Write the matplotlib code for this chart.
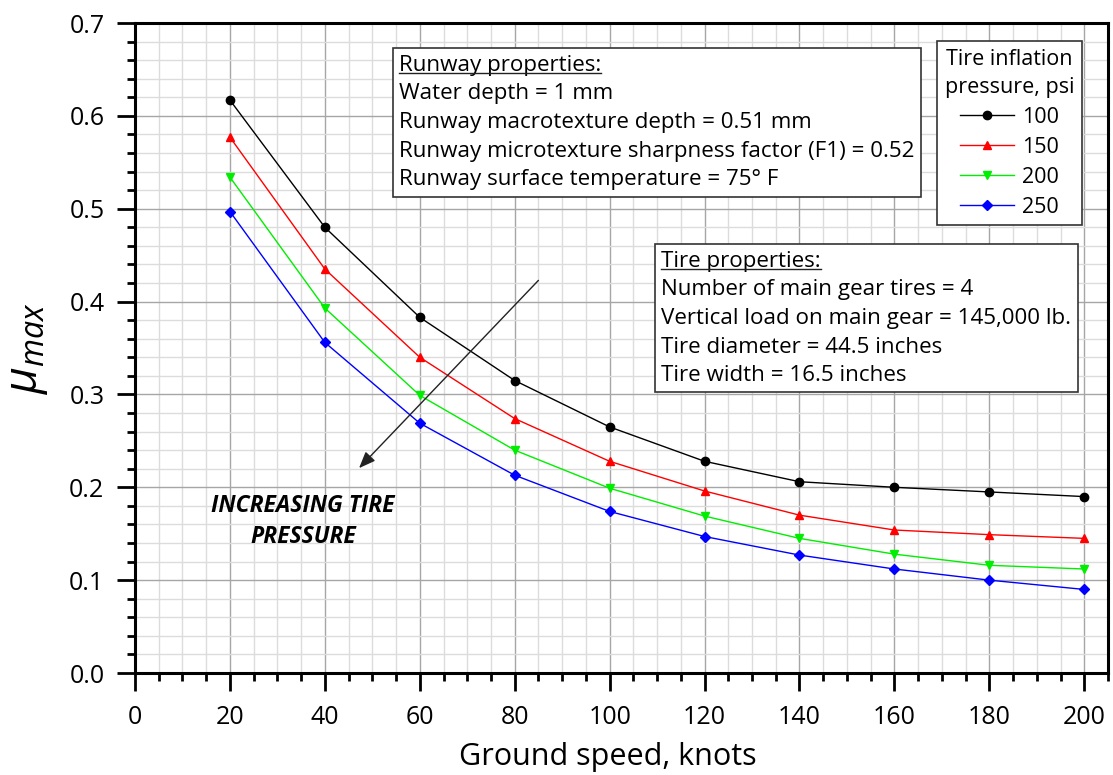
import numpy as np
import matplotlib
matplotlib.use("Agg")
import matplotlib.pyplot as plt
from matplotlib.ticker import MultipleLocator, FormatStrFormatter
from matplotlib.lines import Line2D

# ---------------------------------
# Data
# ---------------------------------
speed = [20, 40, 60, 80, 100, 120, 140, 160, 180, 200]

mu_100 = [0.617, 0.480, 0.383, 0.315, 0.265, 0.228, 0.206, 0.200, 0.195, 0.190]
mu_150 = [0.577, 0.435, 0.340, 0.274, 0.228, 0.196, 0.170, 0.154, 0.149, 0.145]
mu_200 = [0.534, 0.393, 0.299, 0.240, 0.199, 0.169, 0.145, 0.128, 0.116, 0.112]
mu_250 = [0.497, 0.356, 0.269, 0.213, 0.174, 0.147, 0.127, 0.112, 0.100, 0.090]

pressures = ["100", "150", "200", "250"]

runway_lines = [
    "Water depth = 1 mm",
    "Runway macrotexture depth = 0.51 mm",
    "Runway microtexture sharpness factor (F1) = 0.52",
    "Runway surface temperature = 75° F",
]
tire_lines = [
    "Number of main gear tires = 4",
    "Vertical load on main gear = 145,000 lb.",
    "Tire diameter = 44.5 inches",
    "Tire width = 16.5 inches",
]

# ---------------------------------
# Style
# ---------------------------------
plt.rcParams["font.family"] = ["Open Sans", "DejaVu Sans"]
plt.rcParams["mathtext.fontset"] = "custom"
plt.rcParams["mathtext.rm"] = "Open Sans"
plt.rcParams["mathtext.it"] = "Open Sans:italic"

fig = plt.figure(figsize=(11.13, 7.75), dpi=100)
ax = fig.add_axes([0.1213, 0.1316, 0.8742, 0.8387])

series = [
    (mu_100, "black", "o"),
    (mu_150, "#ff0000", "^"),
    (mu_200, "#00ee00", "v"),
    (mu_250, "#0000ff", "D"),
]
for (vals, col, mk), lab in zip(series, pressures):
    ax.plot(speed, vals, color=col, marker=mk, lw=1.0,
            markersize=6 if mk != "D" else 5, label=lab)

ax.set_xlim(0, 205)
ax.set_ylim(0, 0.7)
ax.xaxis.set_major_locator(MultipleLocator(20))
ax.xaxis.set_minor_locator(MultipleLocator(5))
ax.yaxis.set_major_locator(MultipleLocator(0.1))
ax.yaxis.set_minor_locator(MultipleLocator(0.02))
ax.yaxis.set_major_formatter(FormatStrFormatter("%.1f"))

ax.grid(which="major", color="#a6a6a6", lw=1.0)
ax.grid(which="minor", color="#dcdcdc", lw=1.0)
ax.set_axisbelow(True)

for s in ax.spines.values():
    s.set_linewidth(2.2)
ax.tick_params(which="major", direction="out", length=13, width=2,
               labelsize=18)
ax.tick_params(axis="y", which="major", pad=9)
ax.tick_params(axis="x", which="major", pad=10)
ax.tick_params(which="minor", direction="out", length=6, width=2)

ax.set_xlabel("Ground speed, knots", fontsize=22, labelpad=9, x=0.486)
ax.set_ylabel(r"$\mu_{max}$", fontsize=33, labelpad=14)

# ---------------------------------
# Annotations
# ---------------------------------
box = dict(boxstyle="square,pad=0.28", fc="white", ec="#333333", lw=1.2)
headers = []


def info_box(x, y, title, lines):
    ax.text(x, y, title + "\n" + "\n".join(lines), fontsize=16.1,
            va="top", ha="left", linespacing=1.48, bbox=box)
    # header only, used to place the underline
    h = ax.text(x, y, title, fontsize=16.1, va="top", ha="left", alpha=0)
    headers.append(h)


info_box(55.6, 0.666, "Runway properties:", runway_lines)
info_box(110.9, 0.455, "Tire properties:", tire_lines)

ax.annotate("", xy=(46.8, 0.2185), xytext=(85.4, 0.425),
            arrowprops=dict(arrowstyle="-|>,head_length=1.0,head_width=0.4",
                            color="#222222", lw=1.0))
ax.text(35.4, 0.163, "INCREASING TIRE\nPRESSURE", fontsize=16.5, fontweight="bold",
        fontstyle="italic", ha="center", va="center", linespacing=1.4)

leg = ax.legend(title="Tire inflation\npressure, psi", loc="upper right",
                bbox_to_anchor=(0.9775, 0.979), fontsize=15.5, title_fontsize=15.5,
                fancybox=False, edgecolor="#333333", framealpha=1,
                handlelength=2.5, labelspacing=0.42, borderpad=0.35,
                handletextpad=0.35, borderaxespad=0.2)
leg.get_frame().set_linewidth(1.2)
leg.get_title().set_multialignment("center")
leg.get_title().set_linespacing(1.45)

# underline the box headers
fig.canvas.draw()
inv = fig.transFigure.inverted()
for h in headers:
    bb = h.get_window_extent()
    (x0, y0), (x1, _) = inv.transform([(bb.x0, bb.y0 + 3), (bb.x1, bb.y0)])
    fig.add_artist(Line2D([x0, x1], [y0, y0], color="#222222", lw=1.0,
                          transform=fig.transFigure, zorder=10))

plt.savefig("out.png", dpi=100)
